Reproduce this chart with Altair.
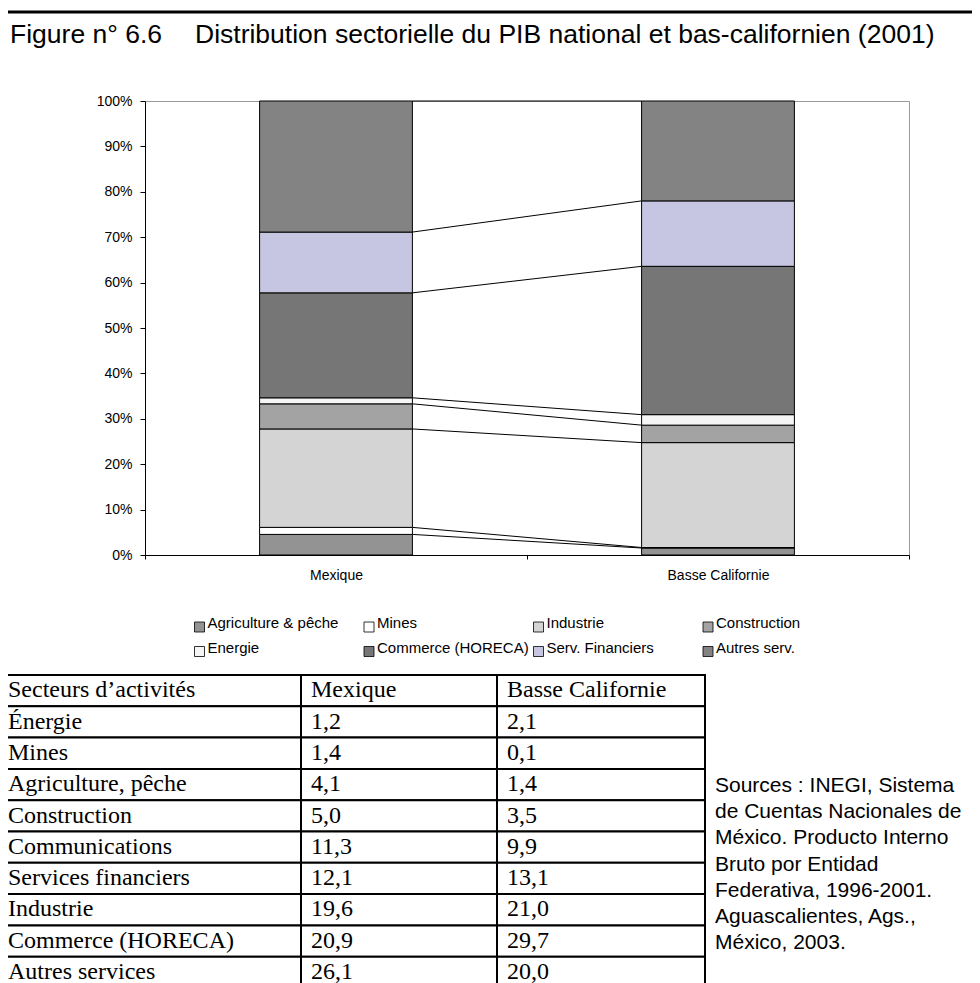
import altair as alt
import pandas as pd

# ---------------- data ----------------
TABLE_HEADER = ["Secteurs d’activités", "Mexique", "Basse Californie"]
TABLE_SECTORS = ["Énergie", "Mines", "Agriculture, pêche", "Construction", "Communications",
                 "Services financiers", "Industrie", "Commerce (HORECA)", "Autres services"]
MEXIQUE = [1.2, 1.4, 4.1, 5.0, 11.3, 12.1, 19.6, 20.9, 26.1]
BASSE_CALIFORNIE = [2.1, 0.1, 1.4, 3.5, 9.9, 13.1, 21.0, 29.7, 20.0]

COUNTRIES = ["Mexique", "Basse Californie"]
CHART_SERIES = ["Agriculture & pêche", "Mines", "Industrie", "Construction",
                "Energie", "Commerce (HORECA)", "Serv. Financiers", "Autres serv."]
# row of the table feeding each chart series (Communications is not charted)
SERIES_ROW = [2, 1, 6, 3, 0, 7, 5, 8]

TITLE_NUM = "Figure n° 6.6"
TITLE_TEXT = "Distribution sectorielle du PIB national et bas-californien (2001)"
SOURCE_LINES = ["Sources : INEGI, Sistema", "de Cuentas Nacionales de",
                "México. Producto Interno", "Bruto por Entidad",
                "Federativa, 1996-2001.", "Aguascalientes, Ags.,", "México, 2003."]

# ---------------- styles / layout ----------------
SERIES_COLORS = ["#939393", "#ffffff", "#d4d4d4", "#a3a3a3",
                 "#f5f5f5", "#767676", "#c6c6e2", "#838383"]
W, H = 764, 454
GAP = 0.3
SANS = "Liberation Sans"
SERIF = "Liberation Serif"

LEG_X0, LEG_DX = 54.5, 169.5
LEG_Y0, LEG_DY = 526, 24.5

COL_WIDTHS = [303, 196, 208]
TABLE_X = -147
TABLE_Y0, TABLE_ROW_H = 574, 31.3

# ---------------- derived tables ----------------
bar_rows = []
line_rows = []
for ci, (cname, vals) in enumerate(zip(COUNTRIES, [MEXIQUE, BASSE_CALIFORNIE])):
    total = sum(vals[r] for r in SERIES_ROW)
    cum = 0.0
    for si, (s, r) in enumerate(zip(CHART_SERIES, SERIES_ROW)):
        frac = vals[r] / total
        bar_rows.append(dict(country=cname, series=s, order=si, value=vals[r],
                             y0=cum, y1=cum + frac, xs=ci + GAP, xe=ci + 1 - GAP))
        line_rows.append(dict(series=s, xs=(ci + 1 - GAP) if ci == 0 else (ci + GAP),
                              y0=cum + frac))
        cum += frac
bars_df = pd.DataFrame(bar_rows)
lines_df = pd.DataFrame(line_rows)

legend_df = pd.DataFrame([dict(series=s, col=i % 4, row=i // 4) for i, s in enumerate(CHART_SERIES)])

col_edges = [0]
for w in COL_WIDTHS:
    col_edges.append(col_edges[-1] + w)
cells = []
all_rows = [TABLE_HEADER] + [
    [sec, f"{m:.1f}".replace(".", ","), f"{b:.1f}".replace(".", ",")]
    for sec, m, b in zip(TABLE_SECTORS, MEXIQUE, BASSE_CALIFORNIE)]
for k, row in enumerate(all_rows):
    for c, txt in enumerate(row):
        cells.append(dict(k=k, k1=k + 1, c=c, xl=col_edges[c], xr=col_edges[c + 1],
                          tx=col_edges[c] + 10, text=txt))
cells_df = pd.DataFrame(cells)

# ---------------- main chart ----------------
label_expr = " : ".join(
    [f"datum.value == {i + 0.5} ? '{c}'" for i, c in enumerate(COUNTRIES)]) + " : ''"

xscale = alt.Scale(domain=[0, 2], nice=False, zero=False)
yscale = alt.Scale(domain=[0, 1], nice=False)
xaxis = alt.Axis(values=[0, 0.5, 1, 1.5, 2], labelExpr=label_expr,
                 tickSize=4, labelPadding=9, grid=False, labelOverlap=False,
                 labelFlush=False, domainColor="black", domainWidth=1,
                 tickColor={"condition": {"test": "datum.value % 1 != 0",
                                          "value": "transparent"},
                            "value": "black"})
yaxis = alt.Axis(values=[i / 10 for i in range(11)], format=".0%", tickSize=5,
                 labelPadding=8, grid=False, domainColor="black", tickColor="black")

bars = alt.Chart(bars_df).mark_rect(stroke="black", strokeWidth=1).encode(
    x=alt.X("xs:Q", scale=xscale, title=None, axis=xaxis),
    x2="xe:Q",
    y=alt.Y("y0:Q", scale=yscale, title=None, axis=yaxis),
    y2="y1:Q",
    fill=alt.Fill("series:N", scale=alt.Scale(domain=CHART_SERIES, range=SERIES_COLORS),
                  legend=None),
)

lines = alt.Chart(lines_df).mark_line(color="black", strokeWidth=1).encode(
    x=alt.X("xs:Q", scale=xscale, title=None, axis=xaxis),
    y=alt.Y("y0:Q", scale=yscale, title=None, axis=yaxis),
    detail="series:N",
)

main = alt.layer(lines, bars)

# ---------------- legend ----------------
leg_x = alt.X("col:Q", scale=alt.Scale(domain=[0, 3], range=[LEG_X0, LEG_X0 + 3 * LEG_DX],
                                       nice=False, zero=False), axis=None)
leg_y = alt.Y("row:Q", scale=alt.Scale(domain=[0, 1], range=[LEG_Y0, LEG_Y0 + LEG_DY],
                                       nice=False, zero=False), axis=None)
leg_sq = alt.Chart(legend_df).mark_square(size=100, stroke="black", strokeWidth=0.8,
                                          opacity=1).encode(
    x=leg_x, y=leg_y, fill=alt.Fill("series:N", legend=None))
leg_tx = alt.Chart(legend_df).mark_text(align="left", baseline="middle", dx=8, dy=-4,
                                        font=SANS, fontSize=15, color="black").encode(
    x=leg_x, y=leg_y, text="series:N")
legend = alt.layer(leg_sq, leg_tx)

# ---------------- table ----------------
tx_scale = alt.Scale(domain=[0, col_edges[-1]], range=[TABLE_X, TABLE_X + col_edges[-1]],
                     nice=False, zero=False)
ty_scale = alt.Scale(domain=[0, 10], range=[TABLE_Y0, TABLE_Y0 + 10 * TABLE_ROW_H],
                     nice=False, zero=False)
cell_rects = alt.Chart(cells_df).mark_rect(fill="white", stroke="black", strokeWidth=2).encode(
    x=alt.X("xl:Q", scale=tx_scale, axis=None), x2="xr:Q",
    y=alt.Y("k:Q", scale=ty_scale, axis=None), y2="k1:Q")
cell_text = alt.Chart(cells_df).mark_text(align="left", baseline="alphabetic", dy=-9,
                                          font=SERIF, fontSize=24, color="black").encode(
    x=alt.X("tx:Q", scale=tx_scale, axis=None),
    y=alt.Y("k1:Q", scale=ty_scale, axis=None),
    text="text:N")
table = alt.layer(cell_rects, cell_text)

# ---------------- annotations ----------------
one = pd.DataFrame({"a": [0]})
title_rule = alt.Chart(one).mark_rule(color="black", strokeWidth=3).encode(
    x=alt.value(-137), x2=alt.value(827), y=alt.value(-89))
title_num = alt.Chart(one).mark_text(align="left", baseline="alphabetic", font=SANS,
                                     fontSize=26.5, color="black").encode(
    x=alt.value(-135), y=alt.value(-58), text=alt.value(TITLE_NUM))
title_txt = alt.Chart(one).mark_text(align="left", baseline="alphabetic", font=SANS,
                                     fontSize=26.5, color="black").encode(
    x=alt.value(50), y=alt.value(-58), text=alt.value(TITLE_TEXT))
sources = alt.Chart(one).mark_text(align="left", baseline="alphabetic", font=SANS,
                                   fontSize=21, lineHeight=26.3, color="black").encode(
    x=alt.value(570), y=alt.value(690.7), text=alt.value(SOURCE_LINES))
annotations = alt.layer(title_rule, title_num, title_txt, sources)

chart = alt.layer(main, legend, table, annotations).resolve_scale(
    x="independent", y="independent"
).properties(
    width=W, height=H,
    autosize=alt.AutoSizeParams(type="none"),
    padding={"left": 137, "top": 93, "right": 63, "bottom": 428},
).configure_view(
    stroke="#9a9a9a", strokeWidth=1
).configure_axis(
    labelFont=SANS, labelFontSize=14, labelColor="black"
)

chart.save("out.html", embed_options={"renderer": "svg", "actions": False})
